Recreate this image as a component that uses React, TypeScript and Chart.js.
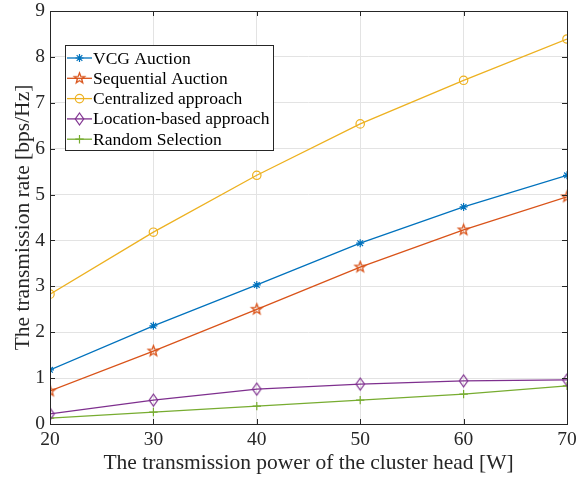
import React, { useEffect, useRef } from 'react';
import { Chart, registerables } from 'chart.js';
import { drawPoint } from 'chart.js/helpers';

Chart.register(...registerables);

const powers = [20, 30, 40, 50, 60, 70];
const vcgAuction = [1.18, 2.14, 3.03, 3.94, 4.73, 5.42];
const sequentialAuction = [0.72, 1.59, 2.5, 3.42, 4.23, 4.95];
const centralized = [2.83, 4.18, 5.42, 6.54, 7.49, 8.39];
const locationBased = [0.22, 0.52, 0.76, 0.87, 0.94, 0.96];
const randomSelection = [0.13, 0.26, 0.39, 0.52, 0.65, 0.83];

const seriesNames = [
  'VCG Auction',
  'Sequential Auction',
  'Centralized approach',
  'Location-based approach',
  'Random Selection',
];
const seriesColors = ['#0072BD', '#D95319', '#EDB120', '#7E2F8E', '#77AC30'];
const xTickValues = [20, 30, 40, 50, 60, 70];
const yTickValues = [0, 1, 2, 3, 4, 5, 6, 7, 8, 9];

const FONT = "'Liberation Serif', 'Times New Roman', serif";
const AXIS_COLOR = '#262626';

function makePentagram(color: string, r: number) {
  const size = Math.ceil(r * 2 + 4);
  const c = document.createElement('canvas');
  c.width = size;
  c.height = size;
  const ctx = c.getContext('2d')!;
  const cx = size / 2;
  const cy = size / 2;
  const inner = r * 0.42;
  ctx.beginPath();
  for (let i = 0; i < 10; i++) {
    const rad = i % 2 === 0 ? r : inner;
    const a = -Math.PI / 2 + (i * Math.PI) / 5;
    const x = cx + rad * Math.cos(a);
    const y = cy + rad * Math.sin(a);
    if (i === 0) ctx.moveTo(x, y);
    else ctx.lineTo(x, y);
  }
  ctx.closePath();
  ctx.strokeStyle = color;
  ctx.lineWidth = 1.3;
  ctx.stroke();
  return c;
}

function makeDiamond(color: string, hw: number, hh: number) {
  const w = Math.ceil(hw * 2 + 4);
  const h = Math.ceil(hh * 2 + 4);
  const c = document.createElement('canvas');
  c.width = w;
  c.height = h;
  const ctx = c.getContext('2d')!;
  const cx = w / 2;
  const cy = h / 2;
  ctx.beginPath();
  ctx.moveTo(cx, cy - hh);
  ctx.lineTo(cx + hw, cy);
  ctx.lineTo(cx, cy + hh);
  ctx.lineTo(cx - hw, cy);
  ctx.closePath();
  ctx.strokeStyle = color;
  ctx.lineWidth = 1.2;
  ctx.stroke();
  return c;
}

export default function App() {
  const ref = useRef<HTMLCanvasElement | null>(null);

  useEffect(() => {
    document.body.style.margin = '0';
    const canvas = ref.current;
    if (!canvas) return;

    const pentagram = makePentagram(seriesColors[1], 5.5);
    const diamond = makeDiamond(seriesColors[3], 4.2, 6);

    const styles: any[] = ['star', pentagram, 'circle', diamond, 'cross'];
    const radii = [4, 5.5, 4.2, 5, 4.2];
    const values = [vcgAuction, sequentialAuction, centralized, locationBased, randomSelection];

    const datasets = values.map((vals, i) => ({
      label: seriesNames[i],
      data: powers.map((p, j) => ({ x: p, y: vals[j] })),
      borderColor: seriesColors[i],
      backgroundColor: seriesColors[i],
      pointBackgroundColor: 'rgba(0,0,0,0)',
      pointBorderColor: seriesColors[i],
      pointBorderWidth: 1.2,
      pointStyle: styles[i],
      pointRadius: radii[i],
      borderWidth: 1.3,
      tension: 0,
    }));

    const boxPlugin = {
      id: 'boxPlugin',
      afterDatasetsDraw(chart: any) {
        const { ctx, chartArea, scales } = chart;
        const { left, right, top, bottom } = chartArea;
        ctx.save();
        ctx.strokeStyle = AXIS_COLOR;
        ctx.lineWidth = 1;
        const tl = 5;
        ctx.beginPath();
        xTickValues.forEach((v) => {
          const x = Math.round(scales.x.getPixelForValue(v)) + 0.5;
          ctx.moveTo(x, bottom);
          ctx.lineTo(x, bottom - tl);
          ctx.moveTo(x, top);
          ctx.lineTo(x, top + tl);
        });
        yTickValues.forEach((v) => {
          const y = Math.round(scales.y.getPixelForValue(v)) + 0.5;
          ctx.moveTo(left, y);
          ctx.lineTo(left + tl, y);
          ctx.moveTo(right, y);
          ctx.lineTo(right - tl, y);
        });
        ctx.stroke();
        ctx.strokeRect(Math.round(left) + 0.5, Math.round(top) + 0.5, Math.round(right - left), Math.round(bottom - top));
        ctx.restore();
      },
    };

    const legendPlugin = {
      id: 'innerLegend',
      afterDraw(chart: any) {
        const { ctx, chartArea } = chart;
        const bx = Math.round(chartArea.left + 15);
        const by = Math.round(chartArea.top + 34);
        const bw = 208;
        const bh = 105;
        ctx.save();
        ctx.fillStyle = '#ffffff';
        ctx.fillRect(bx, by, bw, bh);
        ctx.strokeStyle = AXIS_COLOR;
        ctx.lineWidth = 1;
        ctx.strokeRect(bx + 0.5, by + 0.5, bw, bh);
        ctx.font = `17.5px ${FONT}`;
        ctx.textBaseline = 'middle';
        ctx.textAlign = 'left';
        seriesNames.forEach((name, i) => {
          const y = by + 13 + i * 20.3;
          const x0 = bx + 2;
          const x1 = bx + 27;
          ctx.strokeStyle = seriesColors[i];
          ctx.lineWidth = 1.3;
          ctx.beginPath();
          ctx.moveTo(x0, y);
          ctx.lineTo(x1, y);
          ctx.stroke();
          const st = styles[i];
          const mx = (x0 + x1) / 2;
          if (typeof st !== 'string') {
            ctx.drawImage(st, mx - st.width / 2, y - st.height / 2);
          } else {
            ctx.fillStyle = 'rgba(0,0,0,0)';
            ctx.strokeStyle = seriesColors[i];
            ctx.lineWidth = 1.2;
            drawPoint(ctx, { pointStyle: st, radius: radii[i], rotation: 0, borderWidth: 1.2 }, mx, y);
          }
          ctx.fillStyle = '#000000';
          ctx.fillText(name, x1 + 1, y + 1);
        });
        ctx.restore();
      },
    };

    const chart = new Chart(canvas, {
      type: 'line',
      data: { datasets },
      options: {
        animation: false,
        responsive: false,
        layout: { padding: { top: 11, right: 17, left: 0, bottom: 0 } },
        plugins: { legend: { display: false }, tooltip: { enabled: false } },
        scales: {
          x: {
            type: 'linear',
            min: 20,
            max: 70,
            afterFit: (s: any) => {
              s.height = 55;
              s.paddingLeft = 0;
              s.paddingRight = 0;
            },
            afterBuildTicks: (s: any) => {
              s.ticks = xTickValues.map((v) => ({ value: v }));
            },
            grid: { color: '#e3e3e3', drawTicks: false, lineWidth: 1 },
            border: { display: false },
            ticks: {
              color: AXIS_COLOR,
              font: { family: FONT, size: 19.5 },
              padding: 4,
              maxRotation: 0,
            },
            title: {
              display: true,
              text: 'The transmission power of the cluster head [W]',
              color: AXIS_COLOR,
              font: { family: FONT, size: 21.5 },
              padding: { top: 0, bottom: 2.5 },
            },
          },
          y: {
            type: 'linear',
            min: 0,
            max: 9,
            afterFit: (s: any) => {
              s.width = 50;
              s.paddingTop = 0;
              s.paddingBottom = 0;
            },
            afterBuildTicks: (s: any) => {
              s.ticks = yTickValues.map((v) => ({ value: v }));
            },
            grid: { color: '#e3e3e3', drawTicks: false, lineWidth: 1 },
            border: { display: false },
            ticks: {
              color: AXIS_COLOR,
              font: { family: FONT, size: 19.5 },
              padding: 5,
            },
            title: {
              display: true,
              text: 'The transmission rate [bps/Hz]',
              color: AXIS_COLOR,
              font: { family: FONT, size: 21.5 },
              padding: { top: 10, bottom: 0 },
            },
          },
        },
      },
      plugins: [boxPlugin, legendPlugin],
    });

    return () => {
      chart.destroy();
    };
  }, []);

  return (
    <div style={{ width: 584, height: 479 }}>
      <canvas ref={ref} width={584} height={479} />
    </div>
  );
}
